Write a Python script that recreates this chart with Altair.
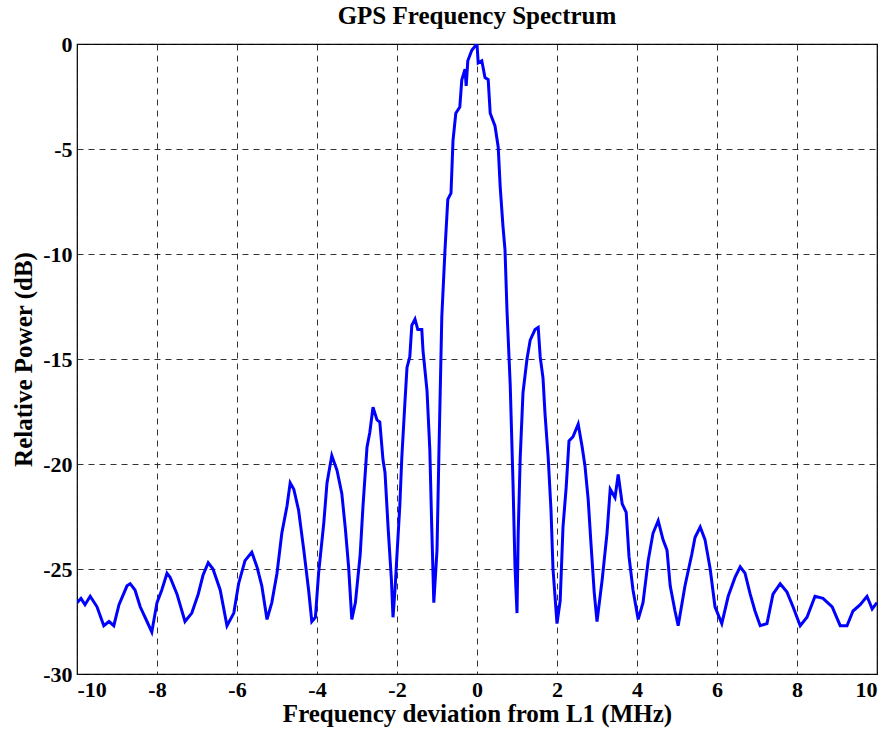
import altair as alt
import pandas as pd

freq_mhz = [
    -10.0, -9.9, -9.8, -9.67, -9.5, -9.33, -9.2, -9.08, -8.95, -8.75, -8.67, -8.55, -8.42, -8.25, -8.13,
    -8.0, -7.88, -7.75, -7.67, -7.5, -7.3, -7.13, -6.97, -6.85, -6.72, -6.6, -6.42, -6.25, -6.08,
    -5.96, -5.8, -5.63, -5.5, -5.38, -5.25, -5.13, -5.0, -4.88, -4.75, -4.67, -4.58, -4.46, -4.33,
    -4.21, -4.13, -4.04, -3.96, -3.83, -3.75, -3.63, -3.5, -3.38, -3.29, -3.21, -3.13, -3.04, -2.92,
    -2.85, -2.75, -2.68, -2.6, -2.5, -2.43, -2.35, -2.3, -2.22, -2.14, -2.1, -2.05, -2.0, -1.93,
    -1.88, -1.8, -1.75, -1.68, -1.63, -1.55, -1.48, -1.38, -1.35, -1.25, -1.18, -1.13, -1.08, -1.0,
    -0.95, -0.88, -0.8, -0.73, -0.65, -0.6, -0.53, -0.43, -0.38, -0.3, -0.27, -0.23, -0.13, -0.05,
    0.0, 0.03, 0.12, 0.2, 0.28, 0.33, 0.45, 0.53, 0.58, 0.65, 0.7, 0.75, 0.83, 0.9, 0.95, 1.0,
    1.03, 1.08, 1.15, 1.25, 1.33, 1.45, 1.53, 1.58, 1.65, 1.7, 1.78, 1.85, 1.9, 2.0, 2.08, 2.15,
    2.23, 2.3, 2.4, 2.53, 2.63, 2.7, 2.78, 2.85, 2.93, 3.0, 3.13, 3.25, 3.33, 3.45, 3.53, 3.63,
    3.73, 3.8, 3.9, 4.03, 4.15, 4.28, 4.4, 4.53, 4.65, 4.75, 4.83, 4.95, 5.03, 5.2, 5.37, 5.45,
    5.58, 5.7, 5.83, 5.95, 6.12, 6.28, 6.45, 6.58, 6.7, 6.83, 6.95, 7.08, 7.25, 7.4, 7.58, 7.75,
    7.9, 8.08, 8.25, 8.45, 8.65, 8.88, 9.08, 9.25, 9.4, 9.58, 9.75, 9.88, 10.0,
]

power_db = [
    -26.6, -26.4, -26.7, -26.3, -26.8, -27.7, -27.5, -27.7, -26.7, -25.8, -25.7, -26.0, -26.8, -27.5, -28.0,
    -26.6, -26.0, -25.2, -25.4, -26.2, -27.5, -27.1, -26.2, -25.3, -24.7, -25.0, -26.0, -27.7, -27.1,
    -25.7, -24.6, -24.2, -24.9, -25.8, -27.4, -26.6, -25.2, -23.3, -22.0, -20.9, -21.2, -22.2, -24.1,
    -26.0, -27.5, -27.3, -25.2, -22.8, -20.9, -19.6, -20.3, -21.4, -23.1, -24.9, -27.4, -26.6, -24.3,
    -22.0, -19.2, -18.5, -17.3, -17.9, -18.0, -19.8, -20.4, -23.1, -25.5, -27.3, -26.0, -24.3, -22.0,
    -19.7, -17.0, -15.4, -14.9, -13.4, -13.1, -13.6, -13.6, -14.6, -16.5, -19.3, -23.1, -26.6, -24.1,
    -19.3, -13.0, -9.8, -7.4, -7.1, -4.6, -3.3, -3.0, -1.7, -1.2, -2.0, -0.8, -0.3, -0.1,
    0.0, -0.9, -0.8, -1.6, -1.7, -3.3, -3.9, -4.9, -6.8, -8.7, -9.8, -12.7, -16.2, -20.9, -24.9, -27.1,
    -23.3, -19.7, -16.6, -15.0, -14.1, -13.6, -13.5, -14.9, -15.9, -17.6, -19.7, -22.2, -25.0, -27.6, -26.5, -23.0,
    -21.1, -18.9, -18.7, -18.1, -19.2, -20.1, -21.7, -23.8, -26.1, -27.5, -25.5, -23.3, -21.2, -21.6, -20.5, -21.9,
    -22.3, -24.4, -26.0, -27.4, -26.6, -24.6, -23.3, -22.7, -23.6, -24.1, -25.8, -27.0, -27.7, -25.8, -24.3, -23.5,
    -23.0, -23.6, -25.0, -26.8, -27.6, -26.3, -25.4, -24.9, -25.2, -26.2, -27.0, -27.7, -27.6, -26.2, -25.7, -26.1,
    -26.8, -27.7, -27.3, -26.3, -26.4, -26.8, -27.7, -27.7, -27.0, -26.7, -26.3, -26.9, -26.6,
]

x_ticks = [-10, -8, -6, -4, -2, 0, 2, 4, 6, 8, 10]
y_ticks = [-30, -25, -20, -15, -10, -5, 0]

df = pd.DataFrame({"f": freq_mhz, "p": power_db})

serif = "Liberation Serif"
label_expr = "(datum.value < 0 ? '-' : '') + abs(datum.value)"

chart = (
    alt.Chart(df)
    .mark_line(color="#0000FF", strokeWidth=3, clip=True)
    .encode(
        x=alt.X(
            "f:Q",
            scale=alt.Scale(domain=[-10, 10], nice=False),
            axis=alt.Axis(
                values=x_ticks,
                title="Frequency deviation from L1 (MHz)",
                labelExpr=label_expr,
                labelPadding=5,
                titlePadding=1,
            ),
        ),
        y=alt.Y(
            "p:Q",
            scale=alt.Scale(domain=[-30, 0], nice=False),
            axis=alt.Axis(
                values=y_ticks,
                title="Relative Power (dB)",
                labelExpr=label_expr,
                labelPadding=5,
                titlePadding=6,
            ),
        ),
    )
    .properties(
        width=800,
        height=630,
        background="white",
        title=alt.TitleParams("GPS Frequency Spectrum", font=serif, fontSize=25, fontWeight="bold", color="black", offset=4),
        autosize=alt.AutoSizeParams(type="none"),
        padding={"left": 77, "top": 44, "right": 17, "bottom": 68},
    )
    .configure_view(stroke="black", strokeWidth=1.2)
    .configure_axis(
        domain=False,
        ticks=False,
        grid=True,
        gridColor="#111111",
        gridDash=[6, 5],
        gridWidth=1,
        gridOpacity=0.85,
        labelFont=serif,
        labelFontSize=22,
        labelFontWeight="bold",
        labelColor="black",
        titleFont=serif,
        titleFontSize=25,
        titleFontWeight="bold",
        titleColor="black",
    )
)

chart.save("out.html", embed_options={"renderer": "svg", "actions": False})
